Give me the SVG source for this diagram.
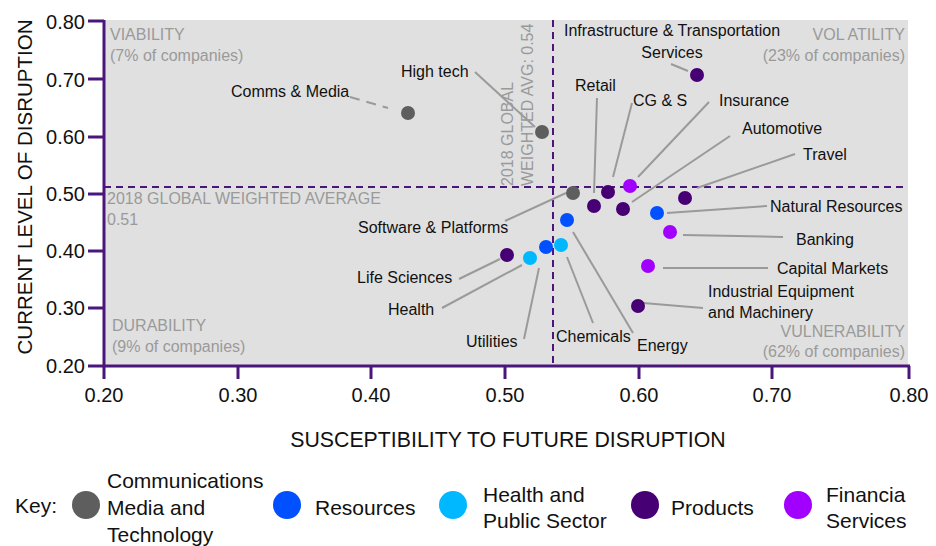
<svg xmlns="http://www.w3.org/2000/svg" width="936" height="546" viewBox="0 0 936 546">
<style>
text{font-family:"Liberation Sans",Arial,sans-serif;fill:#111}
.tick{font-size:20px}
.title{font-size:20.5px}
.xt{font-size:21.3px}
.q{font-size:16px;fill:#9a9a9a}
.lbl{font-size:16px}
.key{font-size:21px}
.axis{stroke:#4b167c;stroke-width:3;fill:none}
.avg{stroke:#4b167c;stroke-width:2;stroke-dasharray:7 5;fill:none}
.con{stroke:#9a9a9a;stroke-width:2;fill:none}
.cmt{fill:#5e5e5e}.res{fill:#0050ff}.hps{fill:#00b8ff}.prd{fill:#460073}.fs{fill:#a100ff}
</style>
<rect x="104" y="20" width="804" height="345" fill="#e0e0e0"/>
<g id="quadrants">
<text class="q" x="110" y="40">VIABILITY</text>
<text class="q" x="110" y="61">(7% of companies)</text>
<text class="q" x="905" y="40" text-anchor="end">VOL ATILITY</text>
<text class="q" x="905" y="61" text-anchor="end">(23% of companies)</text>
<text class="q" x="107" y="204">2018 GLOBAL WEIGHTED AVERAGE</text>
<text class="q" x="107" y="225">0.51</text>
<text class="q" x="112" y="331">DURABILITY</text>
<text class="q" x="112" y="352">(9% of companies)</text>
<text class="q" x="905" y="337" text-anchor="end">VULNERABILITY</text>
<text class="q" x="905" y="357" text-anchor="end">(62% of companies)</text>
<text class="q" transform="translate(513,186) rotate(-90)">2018 GLOBAL</text>
<text class="q" transform="translate(533,186) rotate(-90)">WEIGHTED AVG: 0.54</text>
</g>
<g id="averages">
<line class="avg" x1="104" y1="187" x2="908" y2="187"/>
<line class="avg" x1="553" y1="20" x2="553" y2="365"/>
</g>
<g id="axes">
<line class="axis" x1="104" y1="20" x2="104" y2="366"/>
<line class="axis" x1="88" y1="366" x2="910" y2="366"/>
<path class="axis" d="M88 21H104M88 79H104M88 137H104M88 194H104M88 251H104M88 308H104M104 366V379M238 366V379M371 366V379M505 366V379M639 366V379M772 366V379M909 366V379"/>
<g class="tick" text-anchor="end">
<text x="85" y="29">0.80</text><text x="85" y="87">0.70</text><text x="85" y="144">0.60</text><text x="85" y="201">0.50</text><text x="85" y="258">0.40</text><text x="85" y="315">0.30</text><text x="85" y="373">0.20</text>
</g>
<g class="tick" text-anchor="middle">
<text x="104" y="402">0.20</text><text x="238" y="402">0.30</text><text x="371" y="402">0.40</text><text x="505" y="402">0.50</text><text x="639" y="402">0.60</text><text x="772" y="402">0.70</text><text x="909" y="402">0.80</text>
</g>
<text class="xt" x="508" y="447" text-anchor="middle">SUSCEPTIBILITY TO FUTURE DISRUPTION</text>
<text class="title" transform="translate(32,187) rotate(-90)" text-anchor="middle">CURRENT LEVEL OF DISRUPTION</text>
</g>
<g id="connectors">
<line class="con" x1="350" y1="97" x2="388" y2="108" stroke-dasharray="10 7"/>
<line class="con" x1="475" y1="72" x2="535" y2="127"/>
<line class="con" x1="671" y1="64" x2="688" y2="71"/>
<line class="con" x1="597" y1="98" x2="594" y2="193"/>
<line class="con" x1="632" y1="103" x2="613" y2="177"/>
<line class="con" x1="709" y1="102" x2="638" y2="177"/>
<line class="con" x1="730" y1="136" x2="632" y2="202"/>
<line class="con" x1="795" y1="154" x2="697" y2="188"/>
<line class="con" x1="767" y1="206" x2="667" y2="213"/>
<line class="con" x1="783" y1="237" x2="683" y2="235"/>
<line class="con" x1="768" y1="268" x2="663" y2="268"/>
<line class="con" x1="703" y1="308" x2="643" y2="303"/>
<line class="con" x1="633" y1="333" x2="573" y2="232"/>
<line class="con" x1="593" y1="323" x2="567" y2="257"/>
<line class="con" x1="524" y1="339" x2="539" y2="268"/>
<line class="con" x1="442" y1="308" x2="522" y2="265"/>
<line class="con" x1="459" y1="279" x2="500" y2="259"/>
<line class="con" x1="505" y1="221" x2="566" y2="193"/>
</g>
<g id="comms-media"><circle class="cmt" cx="408" cy="113" r="7"/><text class="lbl" x="231" y="97">Comms &amp; Media</text></g>
<g id="high-tech"><circle class="cmt" cx="542" cy="132" r="7"/><text class="lbl" x="401" y="77">High tech</text></g>
<g id="infrastructure"><circle class="prd" cx="697" cy="75" r="7"/><text class="lbl" x="672" y="36" text-anchor="middle">Infrastructure &amp; Transportation</text><text class="lbl" x="672" y="58" text-anchor="middle">Services</text></g>
<g id="retail"><circle class="prd" cx="594" cy="206" r="7"/><text class="lbl" x="575" y="91">Retail</text></g>
<g id="cgs"><circle class="prd" cx="608" cy="192" r="7"/><text class="lbl" x="633" y="106">CG &amp; S</text></g>
<g id="insurance"><circle class="fs" cx="630" cy="186" r="7"/><text class="lbl" x="719" y="106">Insurance</text></g>
<g id="automotive"><circle class="prd" cx="623" cy="209" r="7"/><text class="lbl" x="742" y="134">Automotive</text></g>
<g id="travel"><circle class="prd" cx="685" cy="198" r="7"/><text class="lbl" x="803" y="160">Travel</text></g>
<g id="natural-resources"><circle class="res" cx="657" cy="213" r="7"/><text class="lbl" x="770" y="212">Natural Resources</text></g>
<g id="banking"><circle class="fs" cx="670" cy="232" r="7"/><text class="lbl" x="796" y="245">Banking</text></g>
<g id="capital-markets"><circle class="fs" cx="648" cy="266" r="7"/><text class="lbl" x="777" y="274">Capital Markets</text></g>
<g id="industrial"><circle class="prd" cx="638" cy="306" r="7"/><text class="lbl" x="708" y="297">Industrial Equipment</text><text class="lbl" x="708" y="318">and Machinery</text></g>
<g id="energy"><circle class="res" cx="567" cy="220" r="7"/><text class="lbl" x="637" y="351">Energy</text></g>
<g id="chemicals"><circle class="hps" cx="561" cy="245" r="7"/><text class="lbl" x="556" y="342">Chemicals</text></g>
<g id="utilities"><circle class="res" cx="546" cy="247" r="7"/><text class="lbl" x="466" y="347">Utilities</text></g>
<g id="health"><circle class="hps" cx="530" cy="258" r="7"/><text class="lbl" x="388" y="315">Health</text></g>
<g id="life-sciences"><circle class="prd" cx="507" cy="255" r="7"/><text class="lbl" x="357" y="283">Life Sciences</text></g>
<g id="software-platforms"><circle class="cmt" cx="573" cy="193" r="7"/><text class="lbl" x="358" y="233">Software &amp; Platforms</text></g>
<g id="legend">
<text class="key" x="15" y="513">Key:</text>
<circle class="cmt" cx="86" cy="505" r="14"/>
<text class="key" x="107" y="488">Communications</text><text class="key" x="107" y="515">Media and</text><text class="key" x="107" y="542">Technology</text>
<circle class="res" cx="287" cy="505" r="14"/>
<text class="key" x="315" y="515">Resources</text>
<circle class="hps" cx="453" cy="505" r="14"/>
<text class="key" x="483" y="502">Health and</text><text class="key" x="483" y="528">Public Sector</text>
<circle class="prd" cx="645" cy="505" r="14"/>
<text class="key" x="671" y="515">Products</text>
<circle class="fs" cx="798" cy="505" r="14"/>
<text class="key" x="826" y="502">Financia</text><text class="key" x="826" y="528">Services</text>
</g>
</svg>
